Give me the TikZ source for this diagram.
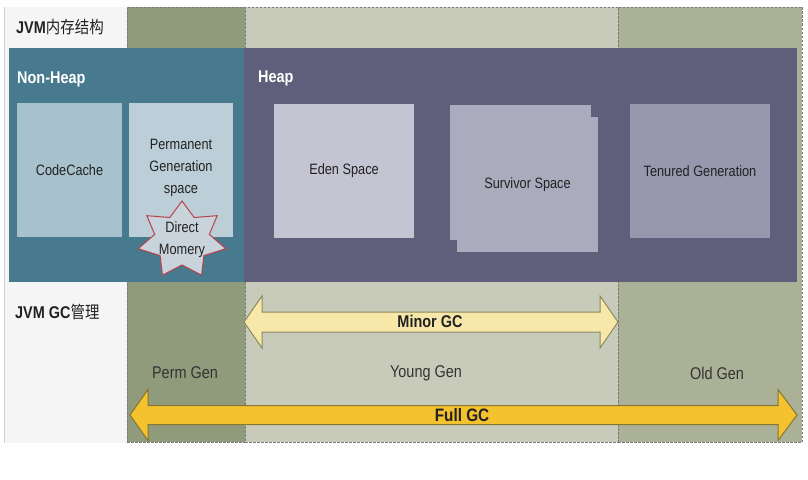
\documentclass[tikz,border=0pt]{standalone}
\usepackage{fontspec}
\setmainfont{Liberation Sans}[FakeStretch=0.85]
\newfontfamily\cjkf{Noto Sans CJK SC}[FakeStretch=0.85]
\usetikzlibrary{calc}
\definecolor{leftbg}{HTML}{F5F5F5}
\definecolor{leftline}{HTML}{CFCFCF}
\definecolor{permc}{HTML}{8F9B7B}
\definecolor{youngc}{HTML}{C8CBB9}
\definecolor{oldc}{HTML}{AAB197}
\definecolor{dashc}{HTML}{7C7C7C}
\definecolor{nonheapc}{HTML}{477A8E}
\definecolor{heapc}{HTML}{5F5F7B}
\definecolor{codec}{HTML}{A8C2CD}
\definecolor{permbox}{HTML}{BCCFD8}
\definecolor{edenc}{HTML}{C4C4D2}
\definecolor{survc}{HTML}{ABABBE}
\definecolor{tenc}{HTML}{9797AE}
\definecolor{starfill}{HTML}{C8D3DB}
\definecolor{starline}{HTML}{B8434A}
\definecolor{minorfill}{HTML}{F7E8AA}
\definecolor{minorline}{HTML}{8C8A5E}
\definecolor{fullfill}{HTML}{F3C22E}
\definecolor{fullline}{HTML}{857631}
\definecolor{txt}{HTML}{222222}
\definecolor{gentxt}{HTML}{333333}
\begin{document}
\begin{tikzpicture}[x=1pt,y=-1pt,
  col/.style={rectangle, inner sep=0pt, draw=dashc, line width=0.8pt, dash pattern=on 2.5pt off 1.5pt},
  area/.style={rectangle, inner sep=0pt, draw=none},
  memtext/.style={text=txt, align=center, inner sep=0pt, font=\fontsize{15}{22}\selectfont},
  head/.style={text=white, anchor=west, inner sep=0pt, font=\bfseries\fontsize{17}{20}\selectfont},
  titletext/.style={text=txt, anchor=west, inner sep=0pt, font=\bfseries\fontsize{17}{20}\selectfont},
  gentext/.style={text=gentxt, inner sep=0pt, font=\fontsize{17}{20}\selectfont},
  gctext/.style={text=txt, inner sep=0pt, font=\bfseries\fontsize{17}{20}\selectfont},
  minorarrow/.style={fill=minorfill, draw=minorline, line width=1pt, line join=miter},
  fullarrow/.style={fill=fullfill, draw=fullline, line width=1pt, line join=miter},
  starshape/.style={fill=starfill, draw=starline, line width=1pt, line join=miter}
]
\useasboundingbox[fill=white] (0,0) rectangle (808,479);

% left label column
\node[area, fill=leftbg, minimum width=122pt, minimum height=436pt] (leftcol) at (66,225) {};
\draw[leftline, line width=0.8pt] (leftcol.north west) -- (leftcol.south west);

% generation columns
\node[col, fill=permc, minimum width=118pt, minimum height=435pt] (permcol) at (186,224.5) {};
\node[col, fill=youngc, minimum width=373pt, minimum height=435pt] (youngcol) at (431.5,224.5) {};
\node[col, fill=oldc, minimum width=184pt, minimum height=435pt] (oldcol) at (710,224.5) {};

% memory areas
\node[area, fill=nonheapc, minimum width=236pt, minimum height=234pt] (nonheap) at (127,165) {};
\node[area, fill=heapc, minimum width=553pt, minimum height=234pt] (heap) at (520.5,165) {};

\node[head] (nonheaplbl) at (17,79) {Non-Heap};
\node[head] (heaplbl) at (258,78) {Heap};

\node[area, fill=codec, minimum width=105pt, minimum height=134pt, memtext] (codecache) at (69.5,170) {CodeCache};
\node[area, fill=permbox, minimum width=104pt, minimum height=134pt] (permspace) at (181,170) {};
\node[memtext] (permlbl) at (181,168) {Permanent\\Generation\\space};

\node[area, fill=edenc, minimum width=140pt, minimum height=134pt, memtext] (eden) at (344,171) {Eden Space};
\node[area, fill=survc, minimum width=141pt, minimum height=135pt] (survback) at (520.5,172.5) {};
\node[area, fill=survc, minimum width=141pt, minimum height=135pt, memtext] (survivor) at (527.5,184.5) {Survivor Space};
\node[area, fill=tenc, minimum width=140pt, minimum height=134pt, memtext] (tenured) at (700,171) {Tenured Generation};

% Direct memory star
\coordinate (starc) at (182,240);
\draw[starshape, shift={(starc)}]
  (90:45pt and 39pt) -- (64.29:28pt and 25pt) --
  (38.57:45pt and 39pt) -- (12.86:28pt and 25pt) --
  (-12.86:45pt and 39pt) -- (-38.57:28pt and 25pt) --
  (-64.29:45pt and 39pt) -- (-90:28pt and 25pt) --
  (-115.71:45pt and 39pt) -- (-141.43:28pt and 25pt) --
  (-167.14:45pt and 39pt) -- (167.14:28pt and 25pt) --
  (141.43:45pt and 39pt) -- (115.71:28pt and 25pt) -- cycle;
\node[memtext] (direct) at (starc) {Direct\\Momery};

% titles
\node[titletext] (title) at (16,27) {JVM{\cjkf\mdseries 内存结构}};
\node[titletext] (gctitle) at (15,312) {JVM GC{\cjkf\mdseries 管理}};

% generation labels
\node[gentext] (permgen) at (185,373) {Perm Gen};
\node[gentext] (younggen) at (426,373) {Young Gen};
\node[gentext] (oldgen) at (717,373) {Old Gen};

% Minor GC arrow
\coordinate (mgL) at (244,322);
\coordinate (mgR) at (618,322);
\draw[minorarrow] (mgL) -- ++(18,-26) -- ++(0,16) -- ($(mgR)+(-18,-10)$) -- ++(0,-16)
  -- (mgR) -- ++(-18,26) -- ++(0,-16) -- ($(mgL)+(18,10)$) -- ++(0,16) -- cycle;
\node[gctext] (minorgc) at (430,321) {Minor GC};

% Full GC arrow
\coordinate (fgL) at (130,415);
\coordinate (fgR) at (797,415);
\draw[fullarrow] (fgL) -- ++(18,-25.5) -- ++(0,16) -- ($(fgR)+(-19,-9.5)$) -- ++(0,-16)
  -- (fgR) -- ++(-19,25.5) -- ++(0,-16) -- ($(fgL)+(18,9.5)$) -- ++(0,16) -- cycle;
\node[gctext, font=\bfseries\fontsize{18}{20}\selectfont] (fullgc) at (462,415) {Full GC};
\end{tikzpicture}
\end{document}
